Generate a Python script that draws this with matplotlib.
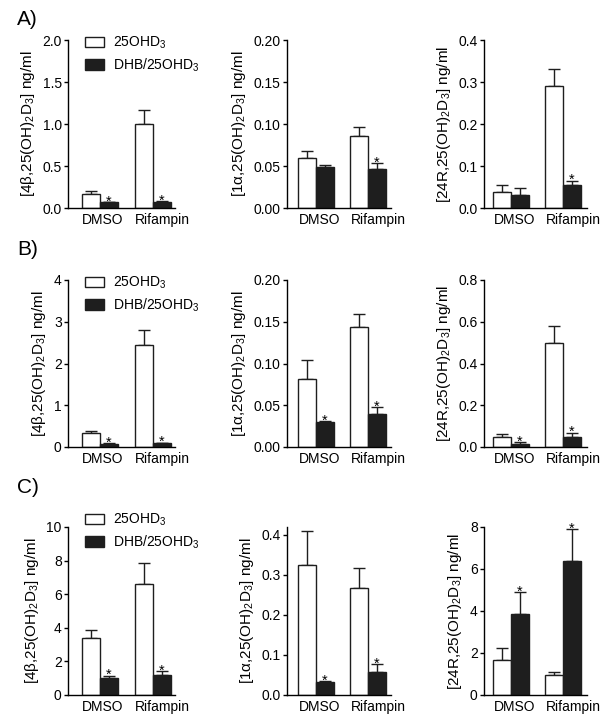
import matplotlib
matplotlib.use("Agg")
import matplotlib.pyplot as plt
from matplotlib.patches import Patch
import numpy as np

plt.rcParams['font.family'] = ['Liberation Sans', 'DejaVu Sans']
plt.rcParams['mathtext.default'] = 'regular'
plt.rcParams['font.size'] = 10

# groups on the x axis
groups = ["DMSO", "Rifampin"]
series_names = ["25OHD$_3$", "DHB/25OHD$_3$"]

# row A
a_4b_veh = [0.17, 1.00]
a_4b_veh_err = [0.03, 0.17]
a_4b_dhb = [0.07, 0.075]
a_4b_dhb_err = [0.003, 0.003]
a_4b_star = [True, True]

a_1a_veh = [0.060, 0.086]
a_1a_veh_err = [0.008, 0.010]
a_1a_dhb = [0.049, 0.047]
a_1a_dhb_err = [0.002, 0.006]
a_1a_star = [False, True]

a_24r_veh = [0.037, 0.291]
a_24r_veh_err = [0.018, 0.039]
a_24r_dhb = [0.030, 0.055]
a_24r_dhb_err = [0.017, 0.010]
a_24r_star = [False, True]

# row B
b_4b_veh = [0.33, 2.45]
b_4b_veh_err = [0.05, 0.35]
b_4b_dhb = [0.08, 0.10]
b_4b_dhb_err = [0.005, 0.005]
b_4b_star = [True, True]

b_1a_veh = [0.081, 0.144]
b_1a_veh_err = [0.023, 0.015]
b_1a_dhb = [0.030, 0.040]
b_1a_dhb_err = [0.001, 0.008]
b_1a_star = [True, True]

b_24r_veh = [0.050, 0.500]
b_24r_veh_err = [0.012, 0.080]
b_24r_dhb = [0.013, 0.050]
b_24r_dhb_err = [0.009, 0.018]
b_24r_star = [True, True]

# row C
c_4b_veh = [3.40, 6.60]
c_4b_veh_err = [0.45, 1.25]
c_4b_dhb = [1.00, 1.20]
c_4b_dhb_err = [0.15, 0.20]
c_4b_star = [True, True]

c_1a_veh = [0.325, 0.268]
c_1a_veh_err = [0.085, 0.049]
c_1a_dhb = [0.032, 0.058]
c_1a_dhb_err = [0.003, 0.019]
c_1a_star = [True, True]

c_24r_veh = [1.65, 0.97]
c_24r_veh_err = [0.60, 0.13]
c_24r_dhb = [3.85, 6.40]
c_24r_dhb_err = [1.05, 1.50]
c_24r_star = [True, True]

label_4b = "[4\u03b2,25(OH)$_2$D$_3$] ng/ml"
label_1a = "[1\u03b1,25(OH)$_2$D$_3$] ng/ml"
label_24r = "[24R,25(OH)$_2$D$_3$] ng/ml"

W, H = 612, 727
fig = plt.figure(figsize=(W / 100, H / 100), dpi=100)

col_x = [(68, 175), (287, 391), (484, 587)]
col_xlim = [(-0.60, 1.42), (-0.56, 1.44), (-0.52, 1.46)]
row_y = [(40, 208), (280, 447), (527, 695)]
legend_top = [35, 275, 512]
row_tags = ["A)", "B)", "C)"]
tag_top = [10, 240, 478]
# the group labels sit a little right of the bar pairs
label_shift = [0.06, 0.19]

panels = [
    [(a_4b_veh, a_4b_veh_err, a_4b_dhb, a_4b_dhb_err, a_4b_star, (0, 2.0), np.arange(0, 2.01, 0.5), "%.1f", label_4b),
     (a_1a_veh, a_1a_veh_err, a_1a_dhb, a_1a_dhb_err, a_1a_star, (0, 0.20), np.arange(0, 0.201, 0.05), "%.2f", label_1a),
     (a_24r_veh, a_24r_veh_err, a_24r_dhb, a_24r_dhb_err, a_24r_star, (0, 0.4), np.arange(0, 0.41, 0.1), "%.1f", label_24r)],
    [(b_4b_veh, b_4b_veh_err, b_4b_dhb, b_4b_dhb_err, b_4b_star, (0, 4), np.arange(0, 4.1, 1), "%d", label_4b),
     (b_1a_veh, b_1a_veh_err, b_1a_dhb, b_1a_dhb_err, b_1a_star, (0, 0.20), np.arange(0, 0.201, 0.05), "%.2f", label_1a),
     (b_24r_veh, b_24r_veh_err, b_24r_dhb, b_24r_dhb_err, b_24r_star, (0, 0.8), np.arange(0, 0.81, 0.2), "%.1f", label_24r)],
    [(c_4b_veh, c_4b_veh_err, c_4b_dhb, c_4b_dhb_err, c_4b_star, (0, 10), np.arange(0, 10.1, 2), "%d", label_4b),
     (c_1a_veh, c_1a_veh_err, c_1a_dhb, c_1a_dhb_err, c_1a_star, (0, 0.42), np.arange(0, 0.41, 0.1), "%.1f", label_1a),
     (c_24r_veh, c_24r_veh_err, c_24r_dhb, c_24r_dhb_err, c_24r_star, (0, 8), np.arange(0, 8.1, 2), "%d", label_24r)],
]

bar_w = 0.34
black = "#1e1e1e"


def draw_panel(ax, veh, veh_err, dhb, dhb_err, stars, ylim, yticks, fmt, ylabel):
    x = np.arange(len(groups))
    ax.bar(x - bar_w / 2, veh, bar_w, color="white", edgecolor=black, linewidth=1, zorder=2)
    ax.bar(x + bar_w / 2, dhb, bar_w, color=black, edgecolor=black, linewidth=1, zorder=2)
    zeros = np.zeros(len(groups))
    ax.errorbar(x - bar_w / 2, veh, yerr=[zeros, veh_err], fmt="none", ecolor=black,
                elinewidth=1, capsize=4.5, capthick=1, zorder=1)
    ax.errorbar(x + bar_w / 2, dhb, yerr=[zeros, dhb_err], fmt="none", ecolor=black,
                elinewidth=1, capsize=4.5, capthick=1, zorder=1)
    for i, s in enumerate(stars):
        if s:
            ax.annotate("*", (x[i] + bar_w / 2, dhb[i] + dhb_err[i]), xytext=(0, -2.5),
                        textcoords="offset points", ha="center", va="baseline", fontsize=10.5)
    ax.set_ylim(*ylim)
    ax.set_yticks(yticks)
    ax.set_yticklabels([fmt % v for v in yticks])
    ax.set_xticks(x + np.array(label_shift))
    ax.set_xticklabels(groups)
    ax.tick_params(axis="x", length=0, pad=3.5, labelsize=10)
    ax.tick_params(axis="y", length=3, width=1, pad=1.5, labelsize=10, direction="out")
    for sp in ["top", "right"]:
        ax.spines[sp].set_visible(False)
    for sp in ["left", "bottom"]:
        ax.spines[sp].set_linewidth(1)
    ax.set_ylabel(ylabel, fontsize=11, labelpad=4)


for r in range(3):
    y0, y1 = row_y[r]
    for c in range(3):
        x0, x1 = col_x[c]
        ax = fig.add_axes([x0 / W, 1 - y1 / H, (x1 - x0) / W, (y1 - y0) / H])
        ax.set_xlim(*col_xlim[c])
        draw_panel(ax, *panels[r][c])
        if c == 0:
            handles = [Patch(facecolor="white", edgecolor=black, linewidth=1),
                       Patch(facecolor=black, edgecolor=black, linewidth=1)]
            ax.legend(handles, series_names, loc="upper left",
                      bbox_to_anchor=(85 / W, 1 - legend_top[r] / H), bbox_transform=fig.transFigure,
                      frameon=False, borderpad=0, borderaxespad=0, handlelength=1.35,
                      handleheight=0.75, handletextpad=0.7, labelspacing=0.35, fontsize=10)
    fig.text(17 / W, 1 - tag_top[r] / H, row_tags[r], fontsize=15, ha="left", va="top")

fig.savefig("out.png", dpi=100)
